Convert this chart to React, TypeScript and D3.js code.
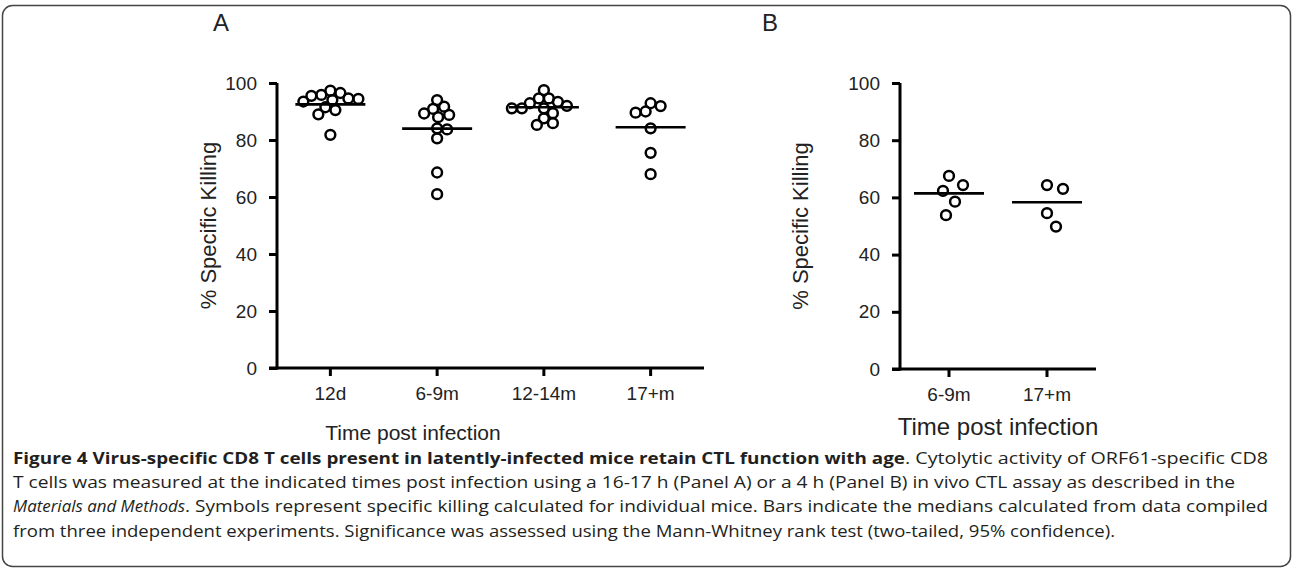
import React, { useEffect, useRef } from 'react';
import * as d3 from 'd3';

// Panel A: 16-17 h in vivo CTL assay
const groupsA = ['12d', '6-9m', '12-14m', '17+m'];
const killing12d = [97.3, 96.5, 95.8, 95.5, 94.6, 94.4, 94, 93.5, 91.5, 90.5, 89, 81.8];
const killing69m = [94, 91.7, 90.9, 89.3, 88.8, 88, 84.1, 83.7, 80.6, 68.6, 61];
const killing1214m = [97.5, 94.6, 94.6, 93.4, 92.9, 92, 91.1, 91.1, 91.1, 89.4, 87.6, 85.9, 85.3];
const killing17m = [92.9, 91.9, 90, 89.6, 84.1, 75.5, 68];
const mediansA = [92.5, 84, 91.5, 84.5];

// Panel B: 4 h in vivo CTL assay
const groupsB = ['6-9m', '17+m'];
const killingB69m = [67.5, 64.3, 62.3, 58.5, 53.8];
const killingB17m = [63, 64.3, 54.5, 49.8];
const mediansB = [61.4, 58.3];

const yTicks = [0, 20, 40, 60, 80, 100];

const captionBold = 'Figure 4 Virus-specific CD8 T cells present in latently-infected mice retain CTL function with age';
const captionLine1 = '. Cytolytic activity of ORF61-specific CD8';
const captionLine2 = 'T cells was measured at the indicated times post infection using a 16-17 h (Panel A) or a 4 h (Panel B) in vivo CTL assay as described in the';
const captionItalic = 'Materials and Methods';
const captionLine3 = '. Symbols represent specific killing calculated for individual mice. Bars indicate the medians calculated from data compiled';
const captionLine4 = 'from three independent experiments. Significance was assessed using the Mann-Whitney rank test (two-tailed, 95% confidence).';

const FONT = '"Liberation Sans", Arial, sans-serif';
const CAP_FONT = '"Open Sans", sans-serif';

// simple beeswarm: highest values first, nudge sideways until no overlap
function swarm(values: number[], y: (v: number) => number, minDist: number, step: number) {
  const placed: { x: number; y: number }[] = [];
  const out: { dx: number; y: number }[] = new Array(values.length);
  const order = values.map((_, i) => i).sort((a, b) => values[b] - values[a]);
  order.forEach(i => {
    const py = y(values[i]);
    for (let k = 0; k < 400; k++) {
      const off = (k % 2 === 1 ? 1 : -1) * Math.ceil(k / 2) * step;
      if (placed.every(p => Math.hypot(p.x - off, p.y - py) >= minDist)) {
        placed.push({ x: off, y: py });
        out[i] = { dx: off, y: py };
        break;
      }
    }
  });
  return out;
}

function drawPanel(
  svg: d3.Selection<SVGSVGElement, unknown, null, undefined>,
  opts: {
    groups: string[];
    series: number[][];
    medians: number[];
    x0: number; x1: number; y0: number; y1: number;
    tickFont: number; labelFont: number; titleFont: number;
    yLabelX: number; titleX: number; titleY: number;
    minDist: number;
  }
) {
  const { groups, series, medians } = opts;
  const y = d3.scaleLinear().domain([0, 100]).range([opts.y0, opts.y1]);
  const x = d3.scaleBand().domain(groups).range([opts.x0, opts.x1]).padding(0);
  const g = svg.append('g');

  // Y axis
  const ya = g.append('g')
    .attr('transform', `translate(${opts.x0},0)`)
    .call(d3.axisLeft(y).tickValues(yTicks).tickSize(8).tickSizeOuter(0).tickPadding(12));
  ya.select('.domain').attr('stroke', '#000').attr('stroke-width', 3)
    .attr('d', `M0,${opts.y0 + 1.5}V${opts.y1}`);
  ya.selectAll('.tick line').attr('stroke', '#000').attr('stroke-width', 3);
  ya.selectAll('.tick text')
    .style('font-family', FONT).style('font-size', `${opts.tickFont}px`).attr('fill', '#222');

  // X axis
  const xa = g.append('g')
    .attr('transform', `translate(0,${opts.y0})`)
    .call(d3.axisBottom(x).tickSize(8).tickSizeOuter(0).tickPadding(11));
  xa.select('.domain').attr('stroke', '#000').attr('stroke-width', 3)
    .attr('d', `M${opts.x0 - 8},0H${opts.x1}`);
  xa.selectAll('.tick line').attr('stroke', '#000').attr('stroke-width', 3);
  xa.selectAll('.tick text')
    .style('font-family', FONT).style('font-size', `${opts.tickFont}px`).attr('fill', '#222');

  // axis titles
  g.append('text')
    .attr('transform', `translate(${opts.yLabelX},${(opts.y0 + opts.y1) / 2}) rotate(-90)`)
    .attr('text-anchor', 'middle')
    .attr('dy', '0.35em')
    .style('font-family', FONT).style('font-size', `${opts.labelFont}px`).attr('fill', '#222')
    .text('% Specific Killing');

  g.append('text')
    .attr('x', opts.titleX).attr('y', opts.titleY)
    .attr('text-anchor', 'middle')
    .attr('dy', '0.35em')
    .style('font-family', FONT).style('font-size', `${opts.titleFont}px`).attr('fill', '#222')
    .text('Time post infection');

  // points + median bars
  series.forEach((vals, gi) => {
    const cx = (x(groups[gi]) || 0) + x.bandwidth() / 2;
    const pts = swarm(vals, y, opts.minDist, 1);
    g.append('g').selectAll('circle')
      .data(pts)
      .enter()
      .append('circle')
      .attr('cx', d => cx + d.dx)
      .attr('cy', d => d.y)
      .attr('r', 4.9)
      .attr('fill', 'none')
      .attr('stroke', '#000')
      .attr('stroke-width', 2.5);

    g.append('line')
      .attr('x1', cx - 35).attr('x2', cx + 35)
      .attr('y1', y(medians[gi])).attr('y2', y(medians[gi]))
      .attr('stroke', '#000').attr('stroke-width', 2.6);
  });
}

const App: React.FC = () => {
  const svgRef = useRef<SVGSVGElement>(null);

  useEffect(() => {
    const svg = d3.select(svgRef.current as SVGSVGElement);
    svg.selectAll('*').remove();

    svg.append('rect')
      .attr('x', 2.5).attr('y', 5.5)
      .attr('width', 1288).attr('height', 561)
      .attr('rx', 10)
      .attr('fill', 'white')
      .attr('stroke', '#444')
      .attr('stroke-width', 1.5);

    // panel letters
    svg.append('text').attr('x', 221).attr('y', 31).attr('text-anchor', 'middle')
      .style('font-family', FONT).style('font-size', '24px').attr('fill', '#222').text('A');
    svg.append('text').attr('x', 770).attr('y', 31).attr('text-anchor', 'middle')
      .style('font-family', FONT).style('font-size', '24px').attr('fill', '#222').text('B');

    drawPanel(svg, {
      groups: groupsA,
      series: [killing12d, killing69m, killing1214m, killing17m],
      medians: mediansA,
      x0: 277, x1: 704, y0: 368, y1: 83,
      tickFont: 19, labelFont: 22, titleFont: 21,
      yLabelX: 208, titleX: 413, titleY: 433,
      minDist: 9.5,
    });

    drawPanel(svg, {
      groups: groupsB,
      series: [killingB69m, killingB17m],
      medians: mediansB,
      x0: 900, x1: 1096, y0: 369, y1: 83,
      tickFont: 19, labelFont: 22, titleFont: 24,
      yLabelX: 800, titleX: 998, titleY: 427,
      minDist: 16,
    });

    // caption
    const cap = svg.append('g').style('font-family', CAP_FONT).style('font-size', '16px').attr('fill', '#231f20');
    const lines = [
      { y: 464, parts: [
        { t: captionBold, w: 892, weight: 'bold', style: 'normal' },
        { t: captionLine1, w: 363, weight: 'normal', style: 'normal' },
      ] },
      { y: 488, parts: [{ t: captionLine2, w: 1222, weight: 'normal', style: 'normal' }] },
      { y: 512, parts: [
        { t: captionItalic, w: 172, weight: 'normal', style: 'italic' },
        { t: captionLine3, w: 1083, weight: 'normal', style: 'normal' },
      ] },
      { y: 537, parts: [{ t: captionLine4, w: 1102, weight: 'normal', style: 'normal' }] },
    ];
    lines.forEach(line => {
      let cx = 13;
      line.parts.forEach(p => {
        cap.append('text')
          .attr('x', cx).attr('y', line.y)
          .attr('textLength', p.w)
          .attr('lengthAdjust', 'spacingAndGlyphs')
          .style('font-weight', p.weight)
          .style('font-style', p.style)
          .text(p.t);
        cx += p.w;
      });
    });
  }, []);

  return (
    <svg
      ref={svgRef}
      width={1293}
      height={574}
      style={{ position: 'absolute', left: 0, top: 0, background: 'white' }}
    ></svg>
  );
};

export default App;
